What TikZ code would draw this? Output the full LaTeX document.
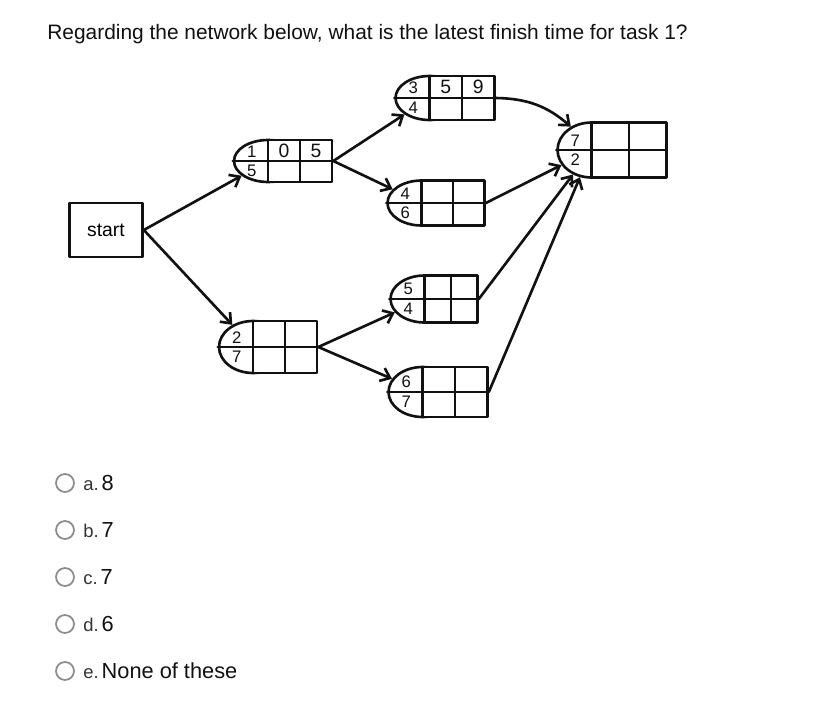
\documentclass[tikz,border=0pt]{standalone}
\usepackage{fontspec}
\setmainfont{Liberation Sans}
\usetikzlibrary{arrows.meta,shapes.geometric}
\usepackage{xcolor}
\definecolor{Ink}{HTML}{111111}
\definecolor{Ring}{HTML}{8C8C8C}
\definecolor{Label}{HTML}{333333}
\tikzset{
  hand/.style={line width=1.5pt, line cap=round, line join=round, draw=Ink},
  taskgrid/.style={hand, fill=white, inner sep=0pt,
    path picture={\draw[hand] (path picture bounding box.north) -- (path picture bounding box.south)
      (path picture bounding box.west) -- (path picture bounding box.east);}},
  taskoval/.style={hand, fill=white, ellipse, inner sep=0pt, minimum width=1.36cm},
  ovaldigit/.style={inner sep=2pt, font=\fontsize{9.5}{9.5}\selectfont, text=Ink},
  celldigit/.style={inner sep=0pt, font=\fontsize{11}{11}\selectfont, text=Ink},
  startbox/.style={hand, minimum width=1.46cm, minimum height=1.08cm, font=\fontsize{11}{11}\selectfont},
  arr/.style={hand, -{Straight Barb[length=5pt,width=8pt]}},
  ring/.style={circle, draw=Ring, line width=1pt, minimum size=0.36cm, inner sep=0pt},
}
\newcommand{\tasknode}[8]{%
  \node[taskoval, minimum height=#4, xshift=-0.5*#3] (#1c) at (#2) {};
  \node[taskgrid, minimum width=#3, minimum height=#4] (#1) at (#2) {};
  \draw[hand] (#1c.west) -- (#1.west);
  \node[ovaldigit, anchor=south] (#1n) at ([xshift=-0.3cm]#1.west) {#5};
  \node[ovaldigit, anchor=north] (#1d) at ([xshift=-0.3cm]#1.west) {#6};
  \node[celldigit] (#1e) at ([xshift=-0.25*#3, yshift=0.25*#4]#1.center) {#7};
  \node[celldigit] (#1f) at ([xshift=0.25*#3, yshift=0.25*#4]#1.center) {#8};
}

\begin{document}
\begin{tikzpicture}[x=0.02cm, y=-0.02cm]
  \useasboundingbox (0,0) rectangle (836,717);
  \node[anchor=base west, inner sep=0pt, font=\fontsize{11.9}{14}\selectfont, text=Ink]
    (question) at (47,39) {Regarding the network below, what is the latest finish time for task 1?};

  % network
  \node[startbox] (start) at (106,230) {start};
  \tasknode{t1}{300,161}{1.28cm}{0.84cm}{1}{5}{0}{5}
  \tasknode{t2}{285,347}{1.28cm}{1.04cm}{2}{7}{}{}
  \tasknode{t3}{462,98}{1.3cm}{0.88cm}{3}{4}{5}{9}
  \tasknode{t4}{453,203}{1.26cm}{0.9cm}{4}{6}{}{}
  \tasknode{t5}{451,299}{1.06cm}{0.94cm}{5}{4}{}{}
  \tasknode{t6}{455,392}{1.3cm}{1.0cm}{6}{7}{}{}
  \tasknode{t7}{629,150}{1.5cm}{1.1cm}{7}{2}{}{}

  \draw[arr] (start.east) -- (t1c);
  \draw[arr] (start.east) -- (t2c);
  \draw[arr] (t1.east) -- (t3c);
  \draw[arr] (t1.east) -- (t4c);
  \draw[arr] (t2.east) -- (t5c);
  \draw[arr] (t2.east) -- (t6c);
  \draw[arr] (t3.east) to[bend left=20] (t7c);
  \draw[arr] (t4.east) -- (t7c);
  \draw[arr] (t5.east) -- (t7c);
  \draw[arr] (t6.east) -- (t7c);

  % answers
  \foreach \k/\v [count=\i] in {a./8, b./7, c./7, d./6, e./None of these} {
    \node[ring] (r\i) at (65,436+47*\i) {};
    \node[anchor=west, inner sep=0pt, text=Label] (o\i) at (83,436+47*\i)
      {{\fontsize{10.5}{11}\selectfont\k}\,{\fontsize{12.4}{13}\selectfont\color{Ink}\v}};
  }
\end{tikzpicture}
\end{document}
